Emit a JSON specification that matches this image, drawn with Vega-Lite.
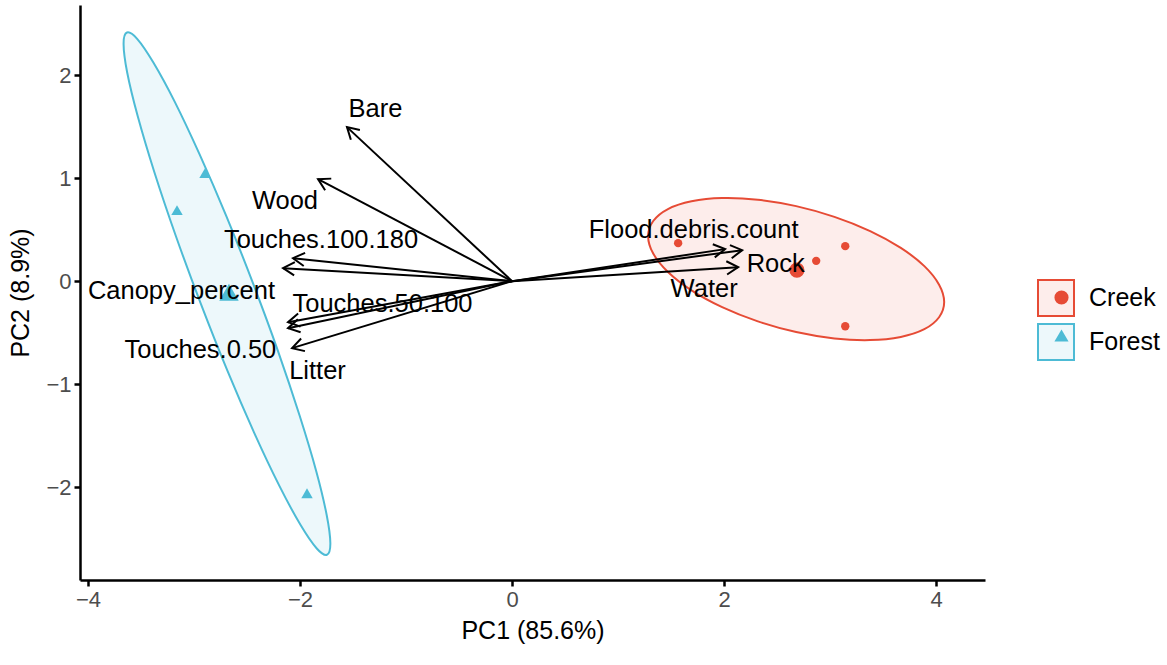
{
  "$schema": "https://vega.github.io/schema/vega-lite/v6.json",
  "width": 905,
  "height": 575,
  "autosize": "none",
  "padding": {"left": 80, "top": 5, "right": 182, "bottom": 85},
  "background": "white",
  "config": {
    "view": {"stroke": null},
    "font": "Liberation Sans",
    "axis": {
      "grid": false,
      "domainColor": "black",
      "domainWidth": 2.5,
      "tickColor": "black",
      "tickWidth": 2.5,
      "tickSize": 6,
      "labelColor": "#4D4D4D",
      "labelFontSize": 22,
      "labelFont": "Liberation Sans",
      "labelPadding": 3,
      "titleFont": "Liberation Sans",
      "titleFontSize": 25,
      "titleFontWeight": "normal",
      "titleColor": "black",
      "format": "d"
    }
  },
  "datasets": {
    "ell": [
      {"group": "Creek", "i": 0, "x": 4.075, "y": -0.203},
      {"group": "Creek", "i": 1, "x": 4.027, "y": -0.350},
      {"group": "Creek", "i": 2, "x": 3.888, "y": -0.466},
      {"group": "Creek", "i": 3, "x": 3.666, "y": -0.541},
      {"group": "Creek", "i": 4, "x": 3.377, "y": -0.572},
      {"group": "Creek", "i": 5, "x": 3.040, "y": -0.556},
      {"group": "Creek", "i": 6, "x": 2.679, "y": -0.494},
      {"group": "Creek", "i": 7, "x": 2.318, "y": -0.390},
      {"group": "Creek", "i": 8, "x": 1.981, "y": -0.252},
      {"group": "Creek", "i": 9, "x": 1.692, "y": -0.089},
      {"group": "Creek", "i": 10, "x": 1.470, "y": 0.089},
      {"group": "Creek", "i": 11, "x": 1.331, "y": 0.268},
      {"group": "Creek", "i": 12, "x": 1.283, "y": 0.437},
      {"group": "Creek", "i": 13, "x": 1.331, "y": 0.584},
      {"group": "Creek", "i": 14, "x": 1.470, "y": 0.700},
      {"group": "Creek", "i": 15, "x": 1.692, "y": 0.775},
      {"group": "Creek", "i": 16, "x": 1.981, "y": 0.806},
      {"group": "Creek", "i": 17, "x": 2.318, "y": 0.790},
      {"group": "Creek", "i": 18, "x": 2.679, "y": 0.728},
      {"group": "Creek", "i": 19, "x": 3.040, "y": 0.624},
      {"group": "Creek", "i": 20, "x": 3.377, "y": 0.486},
      {"group": "Creek", "i": 21, "x": 3.666, "y": 0.323},
      {"group": "Creek", "i": 22, "x": 3.888, "y": 0.146},
      {"group": "Creek", "i": 23, "x": 4.027, "y": -0.034},
      {"group": "Forest", "i": 0, "x": -1.746, "y": -2.655},
      {"group": "Forest", "i": 1, "x": -1.714, "y": -2.544},
      {"group": "Forest", "i": 2, "x": -1.749, "y": -2.267},
      {"group": "Forest", "i": 3, "x": -1.847, "y": -1.844},
      {"group": "Forest", "i": 4, "x": -2.004, "y": -1.304},
      {"group": "Forest", "i": 5, "x": -2.206, "y": -0.683},
      {"group": "Forest", "i": 6, "x": -2.442, "y": -0.024},
      {"group": "Forest", "i": 7, "x": -2.694, "y": 0.629},
      {"group": "Forest", "i": 8, "x": -2.947, "y": 1.230},
      {"group": "Forest", "i": 9, "x": -3.181, "y": 1.740},
      {"group": "Forest", "i": 10, "x": -3.383, "y": 2.122},
      {"group": "Forest", "i": 11, "x": -3.536, "y": 2.352},
      {"group": "Forest", "i": 12, "x": -3.632, "y": 2.413},
      {"group": "Forest", "i": 13, "x": -3.664, "y": 2.302},
      {"group": "Forest", "i": 14, "x": -3.630, "y": 2.025},
      {"group": "Forest", "i": 15, "x": -3.531, "y": 1.602},
      {"group": "Forest", "i": 16, "x": -3.375, "y": 1.062},
      {"group": "Forest", "i": 17, "x": -3.172, "y": 0.441},
      {"group": "Forest", "i": 18, "x": -2.936, "y": -0.218},
      {"group": "Forest", "i": 19, "x": -2.684, "y": -0.871},
      {"group": "Forest", "i": 20, "x": -2.432, "y": -1.472},
      {"group": "Forest", "i": 21, "x": -2.197, "y": -1.982},
      {"group": "Forest", "i": 22, "x": -1.996, "y": -2.364},
      {"group": "Forest", "i": 23, "x": -1.842, "y": -2.594}
    ],
    "pts": [
      {"group": "Creek", "kind": "obs", "x": 1.566, "y": 0.369},
      {"group": "Creek", "kind": "obs", "x": 3.142, "y": 0.340},
      {"group": "Creek", "kind": "obs", "x": 2.868, "y": 0.197},
      {"group": "Creek", "kind": "obs", "x": 3.142, "y": -0.437},
      {"group": "Creek", "kind": "mean", "x": 2.686, "y": 0.107},
      {"group": "Forest", "kind": "obs", "x": -2.896, "y": 1.049},
      {"group": "Forest", "kind": "obs", "x": -3.160, "y": 0.689},
      {"group": "Forest", "kind": "obs", "x": -1.934, "y": -2.058},
      {"group": "Forest", "kind": "mean", "x": -2.670, "y": -0.107}
    ],
    "vars": [
      {"name": "Bare", "x": -1.557, "y": 1.495, "lx": -1.288, "ly": 1.670},
      {"name": "Wood", "x": -1.830, "y": 0.990, "lx": -2.142, "ly": 0.777},
      {"name": "Touches.100.180", "x": -2.066, "y": 0.223, "lx": -1.802, "ly": 0.403},
      {"name": "Canopy_percent", "x": -2.160, "y": 0.126, "lx": -3.118, "ly": -0.097},
      {"name": "Touches.50.100", "x": -2.113, "y": -0.398, "lx": -1.222, "ly": -0.218},
      {"name": "Touches.0.50", "x": -2.113, "y": -0.456, "lx": -2.939, "ly": -0.670},
      {"name": "Litter", "x": -2.075, "y": -0.650, "lx": -1.835, "ly": -0.874},
      {"name": "Flood.debris.count", "x": 2.009, "y": 0.311, "lx": 1.712, "ly": 0.495},
      {"name": "Rock", "x": 2.170, "y": 0.301, "lx": 2.486, "ly": 0.165},
      {"name": "Water", "x": 2.132, "y": 0.136, "lx": 1.811, "ly": -0.073}
    ]
  },
  "layer": [
    {
      "data": {"name": "ell"},
      "mark": {"type": "line", "interpolate": "cardinal-closed", "strokeWidth": 2},
      "encoding": {
        "x": {"field": "x", "type": "quantitative", "title": "PC1 (85.6%)",
              "scale": {"domain": [-4.075, 4.46], "nice": false, "zero": false},
              "axis": {"values": [-4, -2, 0, 2, 4], "titlePadding": 8}},
        "y": {"field": "y", "type": "quantitative", "title": "PC2 (8.9%)",
              "scale": {"domain": [-2.9, 2.68], "nice": false, "zero": false},
              "axis": {"values": [-2, -1, 0, 1, 2], "titlePadding": 12}},
        "order": {"field": "i", "type": "quantitative"},
        "stroke": {"field": "group", "type": "nominal",
                   "scale": {"domain": ["Creek", "Forest"], "range": ["#E64B35", "#4DBBD5"]},
                   "legend": {"title": null, "orient": "none", "legendX": 957, "legendY": 274,
                              "symbolType": "square", "symbolSize": 1296, "symbolStrokeWidth": 2,
                              "labelFontSize": 25, "labelFont": "Liberation Sans", "labelColor": "black",
                              "labelOffset": 14, "rowPadding": 0}},
        "fill": {"field": "group", "type": "nominal",
                 "scale": {"domain": ["Creek", "Forest"], "range": ["#FDEDEB", "#EDF8FB"]},
                 "legend": {"title": null, "orient": "none", "legendX": 957, "legendY": 274,
                            "symbolType": "square", "symbolSize": 1296, "symbolStrokeWidth": 2,
                            "labelFontSize": 25, "labelFont": "Liberation Sans", "labelColor": "black",
                            "labelOffset": 14, "rowPadding": 0}}
      }
    },
    {
      "data": {"name": "pts"},
      "mark": {"type": "point", "filled": true, "opacity": 1, "strokeWidth": 0},
      "encoding": {
        "x": {"field": "x", "type": "quantitative", "title": "PC1 (85.6%)"},
        "y": {"field": "y", "type": "quantitative", "title": "PC2 (8.9%)"},
        "color": {"field": "group", "type": "nominal",
                  "scale": {"range": ["#E64B35", "#4DBBD5"]},
                  "legend": {"title": null, "orient": "none", "legendX": 969, "legendY": 280,
                             "symbolSize": 200, "symbolStrokeWidth": 0, "labelFontSize": 25,
                             "labelExpr": "' '", "rowPadding": 12}},
        "shape": {"field": "group", "type": "nominal",
                  "scale": {"range": ["circle", "triangle-up"]},
                  "legend": {"title": null, "orient": "none", "legendX": 969, "legendY": 280,
                             "symbolSize": 200, "symbolStrokeWidth": 0, "labelFontSize": 25,
                             "labelExpr": "' '", "rowPadding": 12}},
        "size": {
          "condition": [
            {"test": "datum.kind == 'mean' && datum.group == 'Forest'", "value": 380},
            {"test": "datum.kind == 'mean'", "value": 230},
            {"test": "datum.group == 'Forest'", "value": 130}
          ],
          "value": 70
        }
      }
    },
    {
      "data": {"name": "vars"},
      "mark": {"type": "rule", "strokeWidth": 2, "color": "black"},
      "encoding": {
        "x": {"field": "x", "type": "quantitative", "title": "PC1 (85.6%)"},
        "y": {"field": "y", "type": "quantitative", "title": "PC2 (8.9%)"},
        "x2": {"datum": 0},
        "y2": {"datum": 0}
      }
    },
    {
      "data": {"name": "vars"},
      "transform": [
        {"calculate": "atan2(datum.x * 106, datum.y * 103) * 180 / PI", "as": "ang"}
      ],
      "mark": {"type": "point", "shape": "M -0.5 0.866 L 0 0 L 0.5 0.866", "filled": false,
               "stroke": "black", "strokeWidth": 2, "size": 700, "opacity": 1},
      "encoding": {
        "x": {"field": "x", "type": "quantitative", "title": "PC1 (85.6%)"},
        "y": {"field": "y", "type": "quantitative", "title": "PC2 (8.9%)"},
        "angle": {"field": "ang", "type": "quantitative", "scale": null}
      }
    },
    {
      "data": {"name": "vars"},
      "mark": {"type": "text", "fontSize": 25.5, "font": "Liberation Sans", "color": "black",
               "align": "center", "baseline": "middle"},
      "encoding": {
        "x": {"field": "lx", "type": "quantitative", "title": "PC1 (85.6%)"},
        "y": {"field": "ly", "type": "quantitative", "title": "PC2 (8.9%)"},
        "text": {"field": "name", "type": "nominal"}
      }
    }
  ]
}
